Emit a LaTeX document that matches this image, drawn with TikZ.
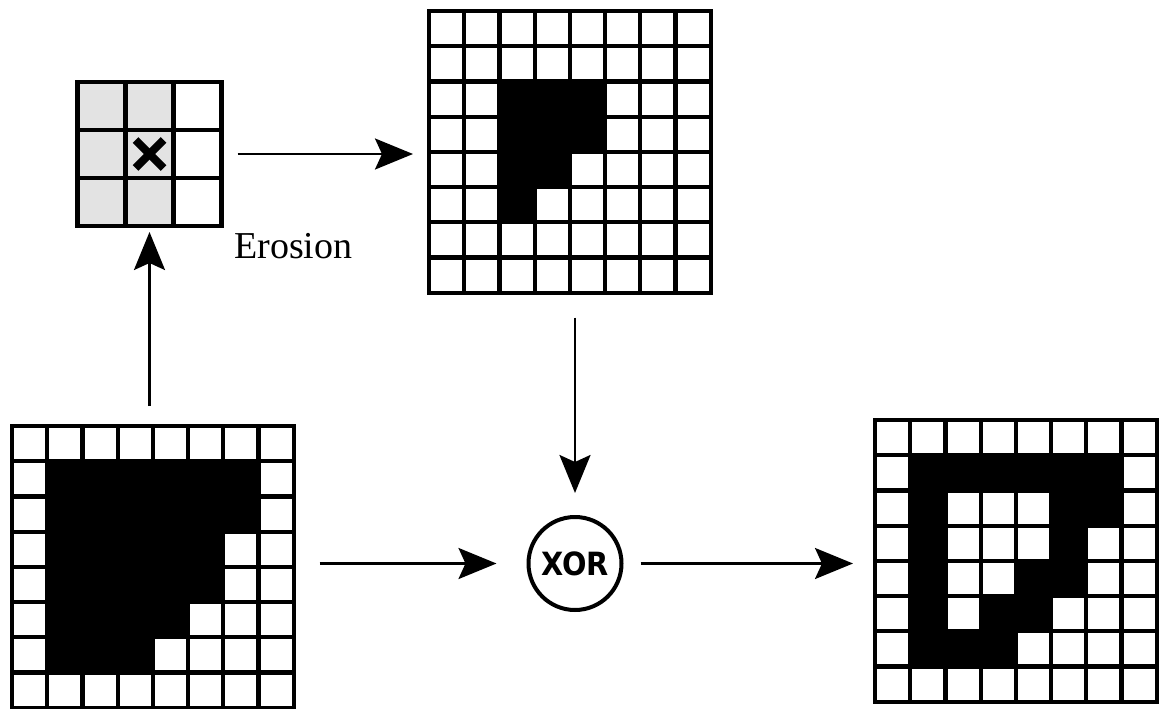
\documentclass[tikz,border=0pt]{standalone}
\usepackage{fontspec}
\usepackage{graphicx}
\setmainfont{Liberation Serif}
\newfontfamily\xorfont{DejaVu Sans}
\usetikzlibrary{arrows.meta,calc}

% Grid lines of an n x n grid inside node #1 (cell size \cs)
\newcommand\gridlines[2]{%
  \foreach \i in {0,...,#2}{%
    \draw[gridline] ([shift={(\i*\cs,0)}]#1.north west) -- ([shift={(\i*\cs,0)}]#1.south west);
    \draw[gridline] ([shift={(0,\i*\cs)}]#1.north west) -- ([shift={(0,\i*\cs)}]#1.north east);
  }
}
% Pixel grid in node #1; #3 lists black runs row/firstcol/lastcol
\newcommand\pixgrid[3]{%
  \foreach \r/\a/\b in {#3}{%
    \fill ([shift={(\a*\cs,\r*\cs)}]#1.north west) rectangle
          ([shift={(\b*\cs+\cs,\r*\cs+\cs)}]#1.north west);
  }
  \gridlines{#1}{#2}
}

\tikzset{
  gridline/.style={line width=4.2pt, line cap=rect},
  gridbox/.style={minimum width=281.6pt, minimum height=281.6pt, inner sep=0pt, outer sep=0pt},
  sebox/.style={minimum width=144pt, minimum height=144pt, inner sep=0pt, outer sep=0pt},
  arr/.style={line width=2.6pt, -{Stealth[length=38pt,width=31pt,inset=7pt]}},
  xorop/.style={circle, draw, line width=4pt, minimum size=93pt, inner sep=0pt},
  lbl/.style={font=\fontsize{38}{40}\selectfont, inner sep=0pt},
}

\begin{document}
\begin{tikzpicture}[x=1pt,y=-1pt]
\useasboundingbox (0,0) rectangle (1159,709);

% the grids
\node[gridbox] (in)  at (152.8,566.8) {};
\node[gridbox] (ero) at (569.8,151.8) {};
\node[gridbox] (out) at (1015.8,560.8) {};
\node[sebox]   (se)  at (149.5,154) {};

\def\cs{35.2}
\pixgrid{in}{8}{1/1/6, 2/1/6, 3/1/5, 4/1/5, 5/1/4, 6/1/3}
\pixgrid{ero}{8}{2/2/4, 3/2/4, 4/2/3, 5/2/2}
\pixgrid{out}{8}{1/1/6, 2/1/1, 2/5/6, 3/1/1, 3/5/5, 4/1/1, 4/4/5, 5/1/1, 5/3/4, 6/1/3}

% structuring element: shaded left two columns, origin marked with a cross
\begin{scope}
  \def\cs{48}
  \foreach \r in {0,1,2}{
    \foreach \c in {0,1}{
      \fill[black!11] ([shift={(\c*\cs,\r*\cs)}]se.north west) rectangle
                      ([shift={(\c*\cs+\cs,\r*\cs+\cs)}]se.north west);
    }
  }
  \gridlines{se}{3}
  \draw[line width=8pt] ([shift={(-14,-14)}]se.center) -- ([shift={(14,14)}]se.center);
  \draw[line width=8pt] ([shift={(-14,14)}]se.center) -- ([shift={(14,-14)}]se.center);
\end{scope}

\node[lbl, anchor=base west] (erolbl) at (234,258) {Erosion};

% XOR operator
\node[xorop] (xor) at (575,563.5) {\xorfont\bfseries\fontsize{32}{32}\selectfont\scalebox{0.9}[1]{XOR}};

% connectors
\draw[arr, shorten <=20pt, shorten >=6pt] (in.north -| se.south) -- (se.south);
\draw[arr, shorten <=16pt, shorten >=16pt] (se.east) -- (se.east -| ero.west);
\draw[arr, shorten <=25pt, shorten >=22pt] (ero.south -| xor.north) -- (xor.north);
\draw[arr, shorten <=26pt, shorten >=30pt] (in.east |- xor.west) -- (xor.west);
\draw[arr, shorten <=17pt, shorten >=22pt] (xor.east) -- (xor.east -| out.west);
\end{tikzpicture}
\end{document}
